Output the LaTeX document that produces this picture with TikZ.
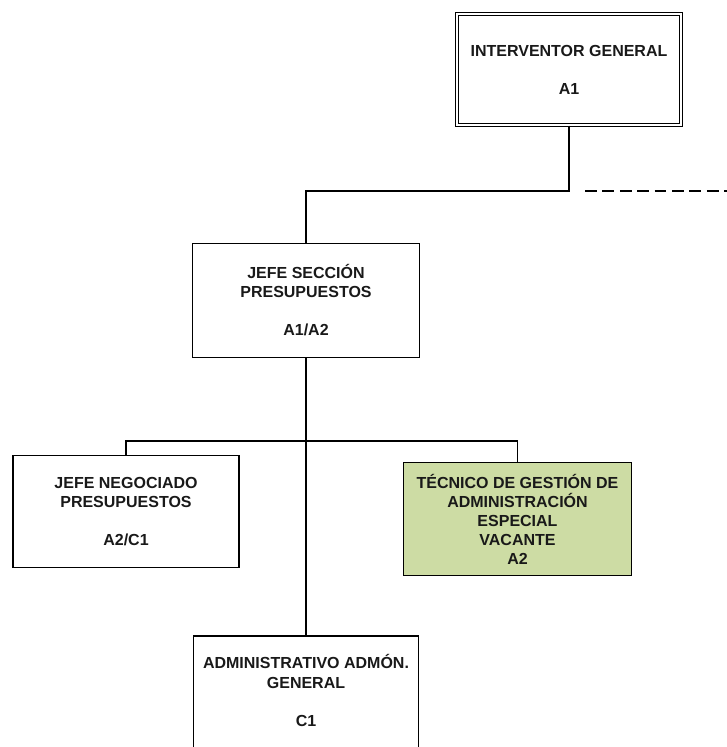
\documentclass[tikz,border=0pt]{standalone}
\usepackage{fontspec}
\setmainfont{Liberation Sans}
\definecolor{vacgreen}{RGB}{205,220,164}
\begin{document}
\begin{tikzpicture}[x=1pt,y=-1pt,
  box/.style={draw, line width=1.5pt, inner sep=0pt, align=center,
    font=\fontsize{16}{19}\selectfont\bfseries, text=black!90},
  conn/.style={line width=1.5pt}]
\useasboundingbox (0,0) rectangle (727,747);
\clip (0,0) rectangle (727,747);
\node[box, line width=1.4pt, double, double distance=1.6pt,
  minimum width=223.6pt, minimum height=110.6pt] (top) at (569,69.5)
  {INTERVENTOR GENERAL\\[19pt]A1};
\node[box, minimum width=227pt, minimum height=114pt] (mid) at (306,300.5)
  {JEFE SECCIÓN\\PRESUPUESTOS\\[19pt]A1/A2};
\node[box, minimum width=226pt, minimum height=112pt] (left) at (126,511.5)
  {JEFE NEGOCIADO\\PRESUPUESTOS\\[19pt]A2/C1};
\node[box, fill=vacgreen, minimum width=228pt, minimum height=113pt] (green) at (517.5,519)
  {TÉCNICO DE GESTIÓN DE\\ADMINISTRACIÓN\\ESPECIAL\\VACANTE\\A2};
\node[box, minimum width=225pt, minimum height=116pt] (bot) at (306,694)
  {ADMINISTRATIVO ADMÓN.\\[1pt]GENERAL\\[19pt]C1\\[-11pt]};
\coordinate (j1) at (top.south |- 0,191);
\coordinate (ds) at (585,191);
\coordinate (de) at (727,191);
\coordinate (j2) at (mid.south |- 0,441);
\draw[conn] (top.south) -- (j1) -| (mid.north);
\draw[conn, dash pattern=on 11.7pt off 5.7pt] (ds) -- (de);
\draw[conn] (mid.south) -- (bot.north);
\draw[conn] (j2) -| (left.north);
\draw[conn] (j2) -| (green.north);
\end{tikzpicture}
\end{document}
